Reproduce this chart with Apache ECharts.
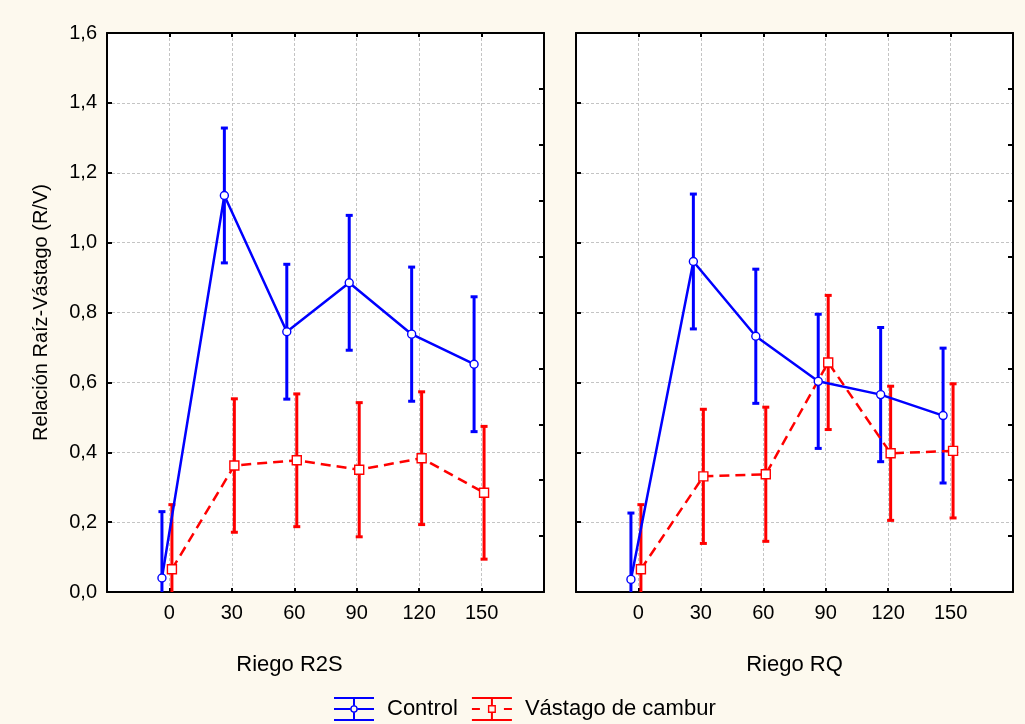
<!DOCTYPE html>
<html>
<head>
<meta charset="utf-8">
<script src="https://cdn.jsdelivr.net/npm/echarts@6/dist/echarts.min.js"></script>
<style>
  html, body { margin: 0; padding: 0; background: #fdf9ee; }
  #chart { width: 1025px; height: 724px; }
</style>
</head>
<body>
<div id="chart"></div>
<script>
// Irrigation days (x categories)
const days = [0, 30, 60, 90, 120, 150];

// Riego R2S panel: means and half-widths of the error bars
const r2sControl = [0.040, 1.135, 0.745, 0.885, 0.738, 0.652];
const r2sControlErr = [0.190, 0.193, 0.193, 0.193, 0.192, 0.193];
const r2sCambur = [0.065, 0.362, 0.377, 0.350, 0.383, 0.284];
const r2sCamburErr = [0.185, 0.191, 0.190, 0.192, 0.190, 0.190];

// Riego RQ panel
const rqControl = [0.036, 0.946, 0.732, 0.603, 0.565, 0.505];
const rqControlErr = [0.190, 0.193, 0.192, 0.192, 0.192, 0.193];
const rqCambur = [0.065, 0.331, 0.337, 0.657, 0.397, 0.404];
const rqCamburErr = [0.185, 0.192, 0.192, 0.192, 0.192, 0.192];

const panelTitles = ['Riego R2S', 'Riego RQ'];
const seriesNames = ['Control', 'Vástago de cambur'];

const BLUE = '#0000ff';
const RED = '#ff0000';
const FONT = '"Liberation Sans", Arial, sans-serif';
// horizontal nudge (in x units) so the two groups don't overlap
const SHIFT_CONTROL = -3.6;
const SHIFT_CAMBUR = 1.2;

const chart = echarts.init(document.getElementById('chart'), null, { renderer: 'canvas' });

const grids = [
  { left: 107, top: 33, width: 437, height: 559, show: true, backgroundColor: '#ffffff', borderWidth: 0 },
  { left: 576, top: 33, width: 437, height: 559, show: true, backgroundColor: '#ffffff', borderWidth: 0 }
];

const axisLine = { show: true, onZero: false, lineStyle: { color: '#000', width: 2 } };
const splitDash = { show: true, lineStyle: { color: '#c4c4c4', type: [3, 2], width: 1 } };

const xAxes = [];
const yAxes = [];
[0, 1].forEach(g => {
  // bottom x axis with labels and grid lines
  xAxes.push({
    type: 'value', gridIndex: g, position: 'bottom', min: -30, max: 180, interval: 30,
    axisLine, axisTick: { show: true, inside: true, length: 4, lineStyle: { color: '#000', width: 2 } },
    axisLabel: {
      show: true, margin: 11, color: '#000', fontFamily: FONT, fontSize: 20,
      formatter: v => (v < 0 || v > 150) ? '' : String(v)
    },
    splitLine: splitDash,
    name: panelTitles[g], nameLocation: 'middle', nameGap: 62,
    nameTextStyle: { color: '#000', fontFamily: FONT, fontSize: 22, padding: g === 0 ? [0, 72, 0, 0] : [0, 0, 0, 0] }
  });
  // top frame edge
  xAxes.push({
    type: 'value', gridIndex: g, position: 'top', min: -30, max: 180, interval: 30,
    axisLine, axisTick: { show: true, inside: true, length: 4, lineStyle: { color: '#000', width: 2 } },
    axisLabel: { show: false }, splitLine: { show: false }
  });
  // left y axis
  yAxes.push({
    type: 'value', gridIndex: g, position: 'left', min: 0, max: 1.6, interval: 0.2,
    axisLine, axisTick: { show: true, inside: true, length: 5, lineStyle: { color: '#000', width: 2 } },
    axisLabel: {
      show: g === 0, margin: 10, color: '#000', fontFamily: FONT, fontSize: 20,
      formatter: v => v.toFixed(1).replace('.', ',')
    },
    splitLine: splitDash,
    name: g === 0 ? 'Relación Raíz-Vástago (R/V)' : '',
    nameLocation: 'middle', nameGap: 56,
    nameTextStyle: { color: '#000', fontFamily: FONT, fontSize: 20 }
  });
  // right frame edge with finer ticks
  yAxes.push({
    type: 'value', gridIndex: g, position: 'right', min: 0, max: 1.6, interval: 0.16,
    axisLine, axisTick: { show: true, inside: true, length: 5, lineStyle: { color: '#000', width: 2 } },
    axisLabel: { show: false }, splitLine: { show: false }
  });
});

function points(vals, shift) {
  return days.map((d, i) => [d + shift, vals[i]]);
}
function bars(vals, errs, shift) {
  return days.map((d, i) => [d + shift, vals[i] - errs[i], vals[i] + errs[i]]);
}

function errorBarSeries(name, data, color, g) {
  return {
    type: 'custom', name, xAxisIndex: g * 2, yAxisIndex: g * 2, clip: true, z: 2,
    encode: { x: 0, y: [1, 2] },
    data,
    renderItem: (params, api) => {
      const x = api.value(0);
      const top = api.coord([x, api.value(2)]);
      const bot = api.coord([x, api.value(1)]);
      const cap = 3.5;
      const style = { stroke: color, lineWidth: 3 };
      return {
        type: 'group',
        children: [
          { type: 'line', shape: { x1: top[0], y1: top[1], x2: bot[0], y2: bot[1] }, style },
          { type: 'line', shape: { x1: top[0] - cap, y1: top[1], x2: top[0] + cap, y2: top[1] }, style },
          { type: 'line', shape: { x1: bot[0] - cap, y1: bot[1], x2: bot[0] + cap, y2: bot[1] }, style }
        ]
      };
    }
  };
}

function lineSeries(name, data, color, dashed, symbol, size, g) {
  return {
    type: 'line', name, xAxisIndex: g * 2, yAxisIndex: g * 2, z: 3,
    data, symbol, symbolSize: size, showSymbol: true,
    lineStyle: { color, width: 2.5, type: dashed ? [10, 6] : 'solid' },
    itemStyle: { color: '#ffffff', borderColor: color, borderWidth: 1.4 },
    emphasis: { disabled: true }, animation: false
  };
}

const panels = [
  { control: r2sControl, controlErr: r2sControlErr, cambur: r2sCambur, camburErr: r2sCamburErr },
  { control: rqControl, controlErr: rqControlErr, cambur: rqCambur, camburErr: rqCamburErr }
];

const series = [];
panels.forEach((p, g) => {
  series.push(errorBarSeries(seriesNames[0], bars(p.control, p.controlErr, SHIFT_CONTROL), BLUE, g));
  series.push(errorBarSeries(seriesNames[1], bars(p.cambur, p.camburErr, SHIFT_CAMBUR), RED, g));
  series.push(lineSeries(seriesNames[0], points(p.control, SHIFT_CONTROL), BLUE, false, 'circle', 8, g));
  series.push(lineSeries(seriesNames[1], points(p.cambur, SHIFT_CAMBUR), RED, true, 'rect', 9, g));
});

// legend glyphs: wide-capped error bar with the series marker in the middle
const iconControl = 'path://M0 0H40V2H0Z M0 22H40V24H0Z M19 2H21V8.2H19Z M19 15.8H21V22H19Z ' +
  'M0 11H16.2V13H0Z M23.8 11H40V13H23.8Z ' +
  'M16.2 12A3.8 3.8 0 1 1 23.8 12A3.8 3.8 0 1 1 16.2 12Z ' +
  'M17.6 12A2.4 2.4 0 1 0 22.4 12A2.4 2.4 0 1 0 17.6 12Z';
const iconCambur = 'path://M0 0H40V2H0Z M0 22H40V24H0Z M19 2H21V8H19Z M19 16H21V22H19Z ' +
  'M0 11H8V13H0Z M32 11H40V13H32Z ' +
  'M16 8H24V16H16Z M17.4 9.4V14.6H22.6V9.4Z';

chart.setOption({
  backgroundColor: '#fdf9ee',
  animation: false,
  textStyle: { fontFamily: FONT },
  grid: grids,
  xAxis: xAxes,
  yAxis: yAxes,
  legend: {
    left: 329, top: 692, itemWidth: 40, itemHeight: 24, itemGap: 14,
    selectedMode: false,
    textStyle: { color: '#000', fontFamily: FONT, fontSize: 22, padding: [0, 0, 0, 8] },
    data: [
      { name: seriesNames[0], icon: iconControl, itemStyle: { color: BLUE, borderWidth: 0 } },
      { name: seriesNames[1], icon: iconCambur, itemStyle: { color: RED, borderWidth: 0 } }
    ]
  },
  series
});
</script>
</body>
</html>
